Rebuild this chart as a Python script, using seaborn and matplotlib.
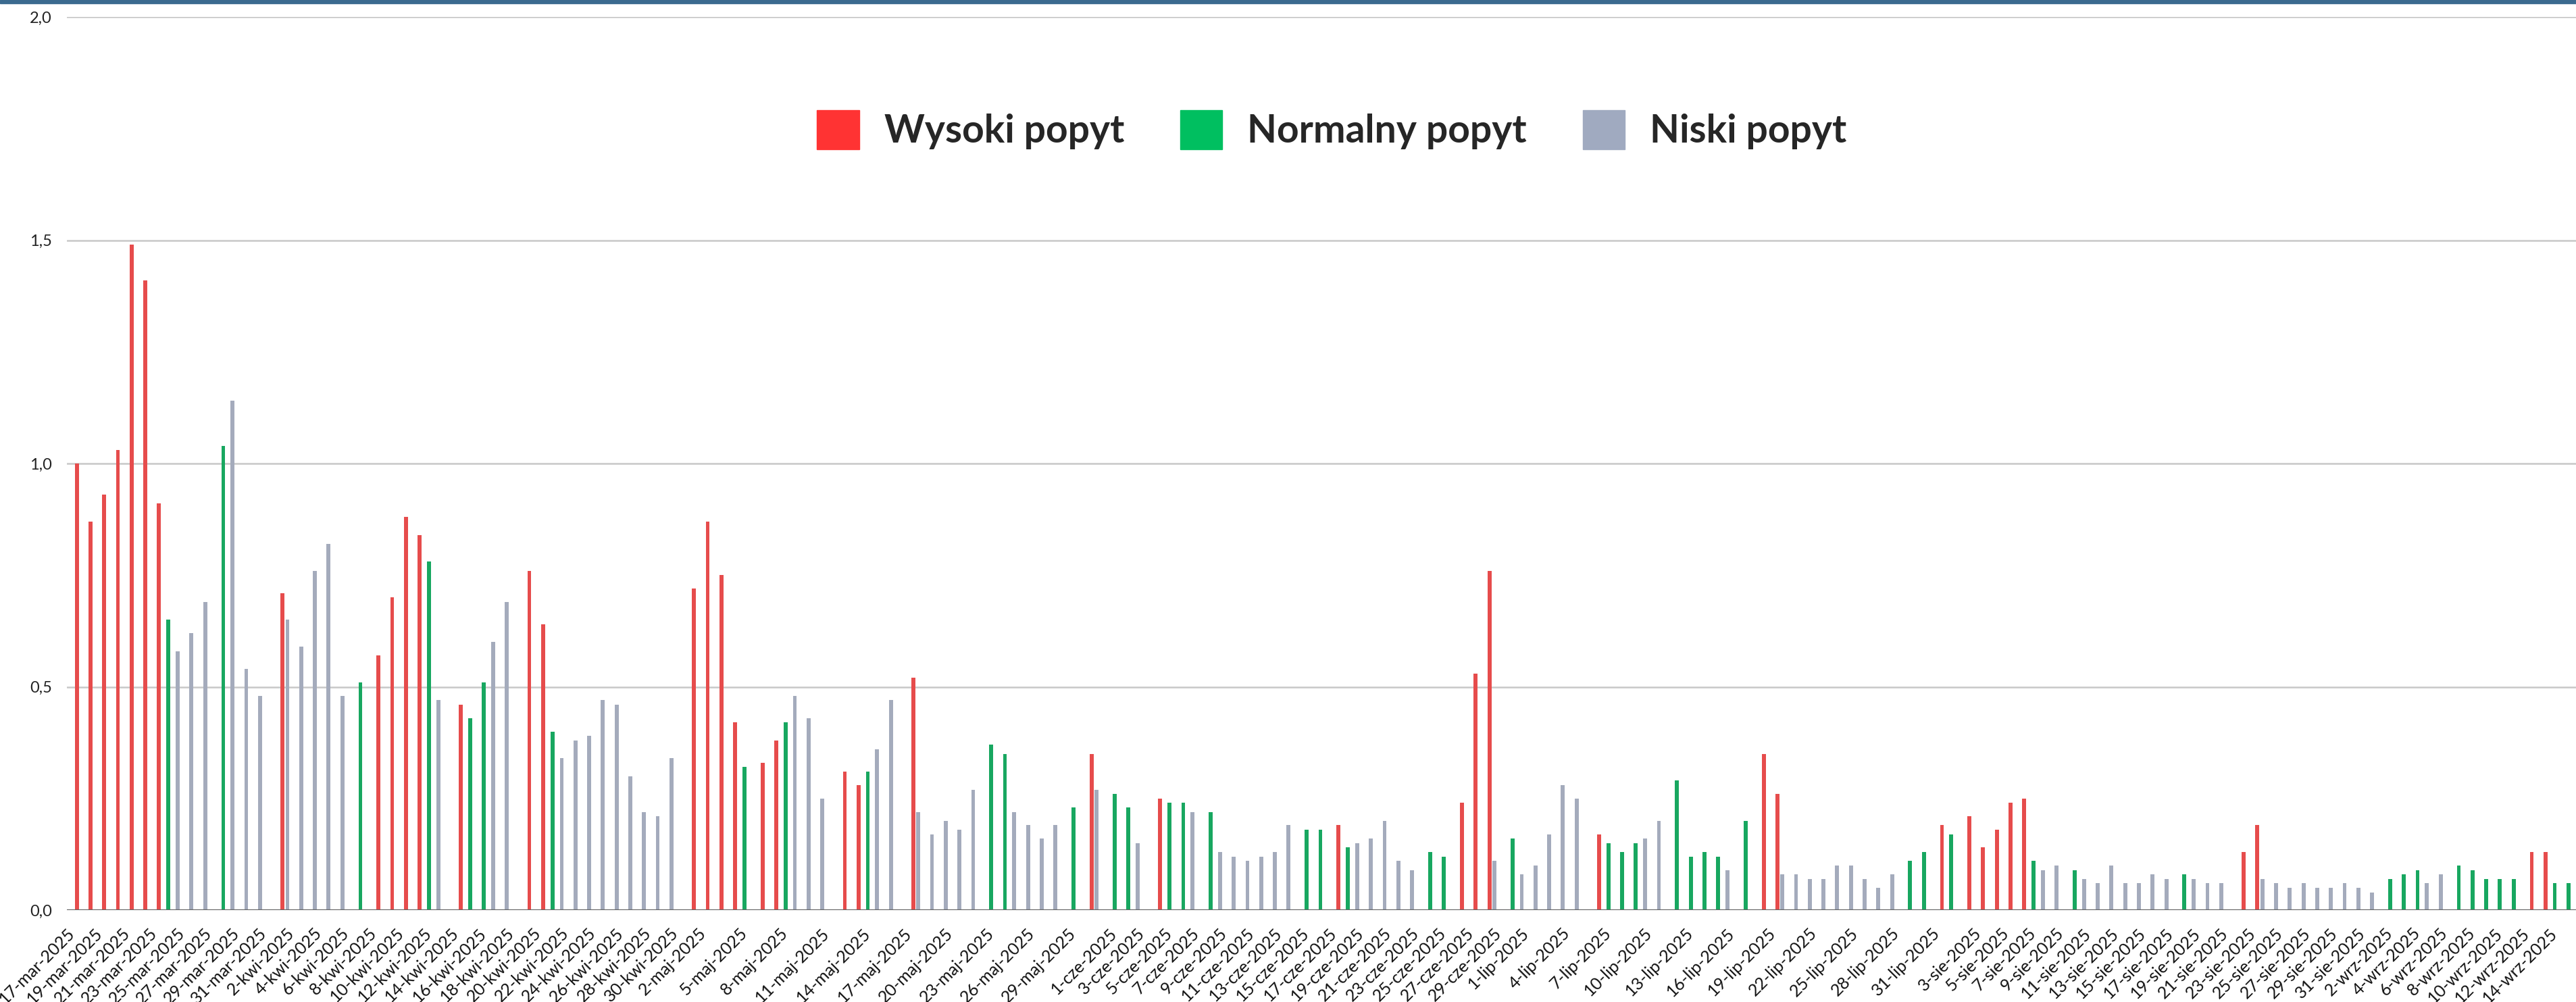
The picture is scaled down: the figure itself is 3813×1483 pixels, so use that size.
import pandas as pd
import seaborn as sns
import matplotlib.pyplot as plt
from matplotlib.patches import Patch, Rectangle

months = {3: 'mar', 4: 'kwi', 5: 'maj', 6: 'cze', 7: 'lip', 8: 'sie', 9: 'wrz'}
dates = pd.date_range('2025-03-17', '2025-09-15', freq='D')

# W = Wysoki popyt, N = Normalny popyt, L = Niski popyt
mar_cat = "WWWWWWWNLLLNLLL"
mar_val = [1.00, 0.87, 0.93, 1.03, 1.49, 1.41, 0.91, 0.65, 0.58, 0.62, 0.69, 1.04, 1.14, 0.54, 0.48]
kwi_cat = "WLLLLLNWWWWNLWNNLLWWNLLLLLLLLL"
kwi_val = [0.71, 0.65, 0.59, 0.76, 0.82, 0.48, 0.51, 0.57, 0.70, 0.88, 0.84, 0.78, 0.47, 0.46, 0.43,
           0.51, 0.60, 0.69, 0.76, 0.64, 0.40, 0.34, 0.38, 0.39, 0.47, 0.46, 0.30, 0.22, 0.21, 0.34]
maj_cat = "WWWWNWWNLLLWWNLLWLLLLLNNLLLLNWL"
maj_val = [0.72, 0.87, 0.75, 0.42, 0.32, 0.33, 0.38, 0.42, 0.48, 0.43, 0.25, 0.31, 0.28, 0.31, 0.36, 0.47,
           0.52, 0.22, 0.17, 0.20, 0.18, 0.27, 0.37, 0.35, 0.22, 0.19, 0.16, 0.19, 0.23, 0.35, 0.27]
cze_cat = "NNLWNNLNLLLLLLNNWNLLLLLNNWWWLN"
cze_val = [0.26, 0.23, 0.15, 0.25, 0.24, 0.24, 0.22, 0.22, 0.13, 0.12, 0.11, 0.12, 0.13, 0.19, 0.18,
           0.18, 0.19, 0.14, 0.15, 0.16, 0.20, 0.11, 0.09, 0.13, 0.12, 0.24, 0.53, 0.76, 0.11, 0.16]
lip_cat = "LLLLLWNNNLLNNNNLNWWLLLLLLLLLNNW"
lip_val = [0.08, 0.10, 0.17, 0.28, 0.25, 0.17, 0.15, 0.13, 0.15, 0.16, 0.20, 0.29, 0.12, 0.13, 0.12, 0.09,
           0.20, 0.35, 0.26, 0.08, 0.08, 0.07, 0.07, 0.10, 0.10, 0.07, 0.05, 0.08, 0.11, 0.13, 0.19]
sie_cat = "NWWWWWNLLNLLLLLLLNLLLWWLLLLLLLL"
sie_val = [0.17, 0.21, 0.14, 0.18, 0.24, 0.25, 0.11, 0.09, 0.10, 0.09, 0.07, 0.06, 0.10, 0.06, 0.06, 0.08,
           0.07, 0.08, 0.07, 0.06, 0.06, 0.13, 0.19, 0.07, 0.06, 0.05, 0.06, 0.05, 0.05, 0.06, 0.05]
wrz_cat = "LNNNLLNNNNNWWNN"
wrz_val = [0.04, 0.07, 0.08, 0.09, 0.06, 0.08, 0.10, 0.09, 0.07, 0.07, 0.07, 0.13, 0.13, 0.06, 0.06]

tick_days = {
    'mar': [17, 19, 21, 23, 25, 27, 29, 31],
    'kwi': [2, 4, 6, 8, 10, 12, 14, 16, 18, 20, 22, 24, 26, 28, 30],
    'maj': [2, 5, 8, 11, 14, 17, 20, 23, 26, 29],
    'cze': [1, 3, 5, 7, 9, 11, 13, 15, 17, 19, 21, 23, 25, 27, 29],
    'lip': [1, 4, 7, 10, 13, 16, 19, 22, 25, 28, 31],
    'sie': [3, 5, 7, 9, 11, 13, 15, 17, 19, 21, 23, 25, 27, 29, 31],
    'wrz': [2, 4, 6, 8, 10, 12, 14],
}

names = {'W': 'Wysoki popyt', 'N': 'Normalny popyt', 'L': 'Niski popyt'}
colors = {'Wysoki popyt': '#FF3333', 'Normalny popyt': '#00BF60', 'Niski popyt': '#A0AAC0'}

cats = mar_cat + kwi_cat + maj_cat + cze_cat + lip_cat + sie_cat + wrz_cat
vals = mar_val + kwi_val + maj_val + cze_val + lip_val + sie_val + wrz_val
labels = [f"{d.day}-{months[d.month]}-2025" for d in dates]

df = pd.DataFrame({'data': labels, 'wartosc': vals, 'popyt': [names[c] for c in cats]})

sns.set_theme(style='white')
plt.rcParams['font.family'] = ['Lato', 'DejaVu Sans']

fig = plt.figure(figsize=(38.13, 14.83), dpi=100)
ax = fig.add_axes([99 / 3813, 1 - 1347 / 1483, (3813 - 99) / 3813, (1347 - 25) / 1483])

sns.barplot(data=df, x='data', y='wartosc', hue='popyt', order=labels,
            hue_order=['Niski popyt', 'Normalny popyt', 'Wysoki popyt'],
            palette=colors, dodge=True, width=0.96, gap=0.1, errorbar=None,
            legend=False, ax=ax, linewidth=0)

ax.set_xlim(-0.4, 182.55)
ax.set_ylim(0, 2.0)
ax.set_yticks([0, 0.5, 1.0, 1.5, 2.0])
ax.set_yticklabels(['0,0', '0,5', '1,0', '1,5', '2,0'], fontsize=17, color='#222222')
ax.yaxis.grid(True, color='#C8C8C8', linewidth=1.8)
ax.set_axisbelow(True)
ax.axhline(0, color='#666666', linewidth=2.4, zorder=5)

shown = [f"{d}-{m}-2025" for m, days in tick_days.items() for d in days]
ax.set_xticks([labels.index(s) for s in shown])
ax.set_xticklabels(shown, rotation=45, ha='right', va='center', rotation_mode='anchor',
                   fontsize=18, color='#111111')
ax.tick_params(axis='x', length=0, pad=22)
ax.tick_params(axis='y', length=0, pad=16)
ax.set_xlabel('')
ax.set_ylabel('')
for s in ax.spines.values():
    s.set_visible(False)

fig.add_artist(Rectangle((0, 1 - 5 / 1483), 1, 5 / 1483, transform=fig.transFigure,
                         color='#3B6A8F', zorder=10))

handles = [Patch(color=colors[n], label=n) for n in ['Wysoki popyt', 'Normalny popyt', 'Niski popyt']]
fig.legend(handles=handles, loc='center', bbox_to_anchor=(0.517, 0.8705), ncol=3, frameon=False,
           prop={'family': 'Lato', 'weight': 'bold', 'size': 41},
           handlelength=1.1, handleheight=1.2, handletextpad=0.65, columnspacing=1.45)

fig.savefig('out.png', dpi=100)
